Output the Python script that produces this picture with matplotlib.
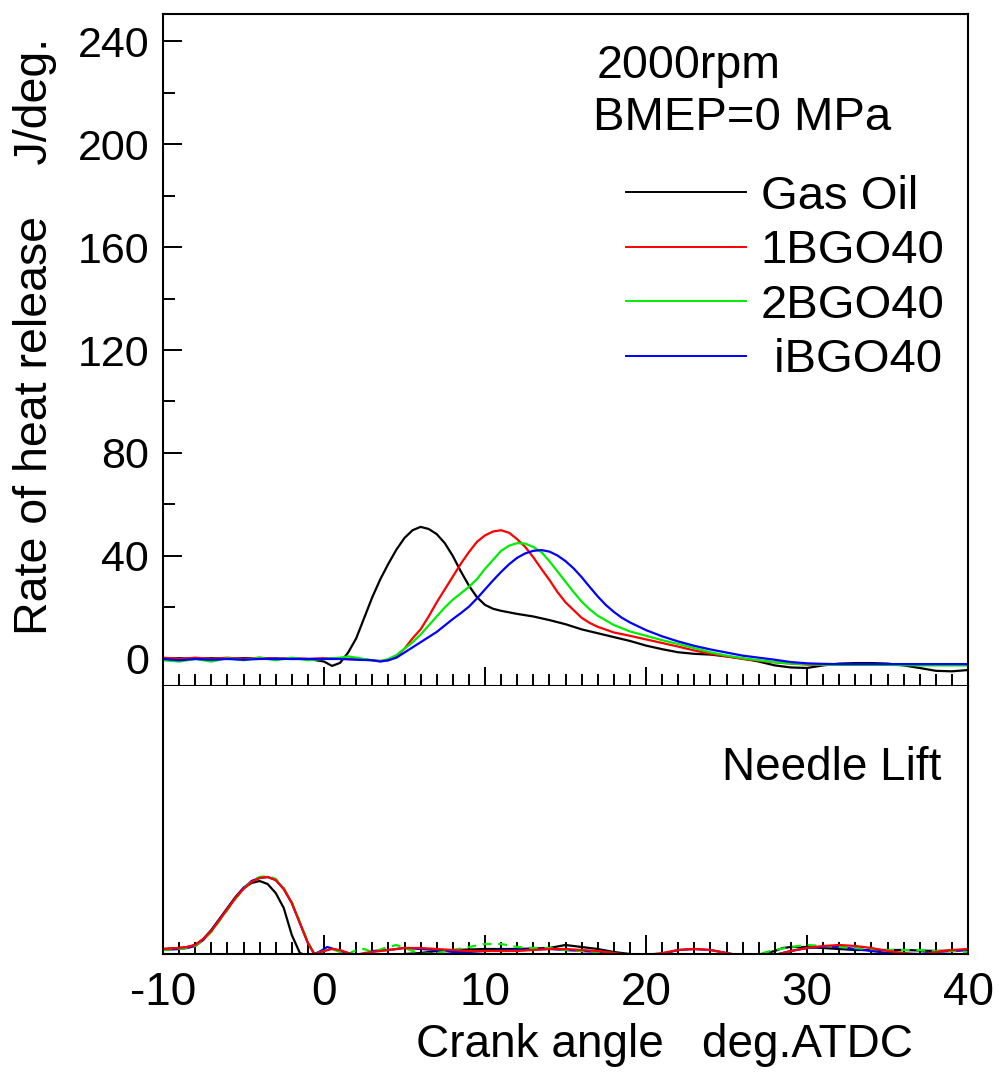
import matplotlib
matplotlib.use("Agg")
import matplotlib.pyplot as plt
from matplotlib.ticker import MultipleLocator

plt.rcParams['font.family'] = ['Liberation Sans', 'DejaVu Sans']
plt.rcParams['axes.unicode_minus'] = False

# ---------------- data: rate of heat release (J/deg) ----------------
gas_x = [-10, -9, -8, -7, -6, -5, -4, -3, -2, -1, 0, 0.5, 1, 1.5, 2, 2.5, 3, 3.5, 4, 4.5,
         5, 5.5, 6, 6.5, 7, 7.5, 8, 8.5, 9, 9.5, 10, 10.5, 11, 12, 13, 14, 15, 16, 17, 18,
         19, 20, 21, 22, 23, 24, 25, 26, 27, 28, 29, 30, 31, 32, 33, 34, 35, 36, 37, 38, 39, 40]
gas_y = [0, 0.3, 0, 0.3, 0, 0.3, 0.2, 0.2, 0, 0, -1, -2.7, -1.5, 2.5, 8, 16, 24, 31, 37, 42.5,
         47, 50, 51.3, 50.5, 48.5, 45, 40, 34, 28.5, 24, 21, 19.5, 18.7, 17.5, 16.5, 15.1, 13.5, 11.5, 10, 8.5,
         7, 5.2, 3.8, 2.6, 2, 1.7, 1, 0.2, -1, -2.5, -3.3, -3.5, -2.5, -1.8, -1.6, -1.6, -1.8, -2.5, -3.5, -4.6, -4.8, -4.3]

b1_x = [-10, -9, -8, -7, -6, -5, -4, -3, -2, -1, 0, 1, 2, 3, 3.5, 4, 4.5, 5, 5.5, 6,
        6.5, 7, 7.5, 8, 8.5, 9, 9.5, 10, 10.5, 11, 11.5, 12, 12.5, 13, 13.5, 14, 14.5, 15, 15.5, 16,
        16.5, 17, 18, 19, 20, 21, 22, 23, 24, 25, 26, 27, 28, 29, 30, 31, 32, 33, 34, 35,
        36, 37, 38, 39, 40]
b1_y = [0.5, 0, 0.5, 0, 0.5, 0, 0.5, 0, 0.3, 0, 0.3, 0, 0, -0.5, -0.8, -0.5, 1, 4, 8, 11.5,
        16.5, 22, 27, 32, 37, 41.5, 45.5, 48, 49.5, 50, 49, 46.5, 43.5, 39.5, 35, 30.7, 26, 22, 19, 16,
        14, 12.5, 10.3, 9, 7.6, 6.2, 4.8, 3.3, 2, 1, 0, -0.7, -1.3, -1.8, -2.2, -2.3, -2.3, -2.2, -2, -2,
        -2, -2, -2, -2, -2]

b2_x = [-10, -9, -8, -7, -6, -5, -4, -3, -2, -1, 0, 1, 1.5, 2, 3, 3.5, 4, 4.5, 5, 5.5,
        6, 6.5, 7, 7.5, 8, 8.5, 9, 9.5, 10, 10.5, 11, 11.5, 12, 12.5, 13, 13.5, 14, 14.5, 15, 15.5,
        16, 16.5, 17, 18, 19, 20, 21, 22, 23, 24, 25, 26, 27, 28, 29, 30, 31, 32, 33, 34,
        35, 36, 37, 38, 39, 40]
b2_y = [-0.5, -1, 0, -1, 0.3, -0.5, 0.5, -0.5, 0.5, -0.5, 0, 0.5, 1, 0.5, -0.5, -0.8, 0, 1.5, 4, 6.5,
        9.5, 13, 16.5, 20, 23, 25.5, 28, 31, 35, 38.5, 42, 44, 45, 44.8, 43.5, 41.5, 38, 34, 30, 26,
        22.3, 19.3, 16.8, 13.2, 10.7, 9, 7.3, 5.8, 4.2, 2.6, 1.3, 0.3, -0.5, -1.3, -1.8, -2, -2.2, -2.3, -2.3, -2.3,
        -2.3, -2.4, -2.5, -2.5, -2.5, -2.5]

bi_x = [-10, -9, -8, -7, -6, -5, -4, -3, -2, -1, 0, 1, 2, 3, 3.5, 4, 4.5, 5, 5.5, 6,
        6.5, 7, 7.5, 8, 8.5, 9, 9.5, 10, 10.5, 11, 11.5, 12, 12.5, 13, 13.5, 14, 14.5, 15, 15.5, 16,
        16.5, 17, 17.5, 18, 18.5, 19, 20, 21, 22, 23, 24, 25, 26, 27, 28, 29, 30, 31, 32, 33,
        34, 35, 36, 37, 38, 39, 40]
bi_y = [0, -0.5, 0, -0.3, 0, -0.3, 0, 0, 0, 0, 0, 0, -0.3, -0.5, -1, -0.5, 0.5, 2.5, 4.5, 6.5,
        8.5, 10.5, 13, 15.5, 17.8, 20.3, 23.5, 27, 30.5, 33.8, 36.8, 39.3, 41, 42, 42.3, 41.7, 40.2, 38, 35.2, 31.8,
        28, 24.3, 21, 18.3, 16, 14.2, 11.2, 8.8, 6.8, 5.1, 3.7, 2.5, 1.3, 0.5, -0.3, -1.2, -1.7, -1.9, -2, -2,
        -2, -2, -2, -2, -2, -2, -2]

# ---------------- data: needle lift (arbitrary units) ----------------
nl_gas_x = [-10, -9, -8.5, -8, -7.5, -7, -6.5, -6, -5.5, -5, -4.5, -4, -3.5, -3, -2.5, -2, -1.5, -1, 0, 2,
            4, 6, 7, 8, 10, 12, 14, 15, 16, 17, 18, 19, 20, 22, 24, 26, 27, 28, 28.5, 29,
            30, 31, 32, 33, 34, 36, 38, 40]
nl_gas_y = [1, 2, 3, 5, 11, 20, 31, 42, 53, 62, 67, 69, 66, 57, 42, 15, -3, -6, -6, -6,
            -5, -3, -1, 0, 1, 1, 2, 5, 3, 1, -2, -4, -6, -6, -6, -6, -5, -1, 2, 3,
            3, 2, 1, 0, 0, 0, -1, 0]

nl_b1_x = [-10, -9, -8.5, -8, -7.5, -7, -6.5, -6, -5.5, -5, -4.5, -4, -3.5, -3, -2.5, -2, -1.5, -1, -0.6, 0,
           0.5, 1, 1.5, 2, 2.5, 3, 4, 5, 6, 7, 8, 9, 10, 11, 12, 13, 14, 15, 16, 17,
           18, 19, 20, 21, 22, 23, 24, 25, 26, 27, 28, 28.5, 29, 30, 31, 32, 33, 34, 35, 36,
           37, 38, 39, 40]
nl_b1_y = [1, 2, 3, 5, 11, 19, 30, 41, 52, 61, 68, 72, 73, 70, 61, 47, 27, 7, -4, -1,
           1, 0, -3, -5, -3, -2, 0, 2, 2, 1, 0, -1, -1, -1, -1, 0, 1, 1, 0, -1,
           -3, -5, -5, -3, 0, 1, 0, -3, -6, -6, -5, -3, -1, 2, 4, 5, 4, 2, -1, -3,
           -5, -2, 0, 1]

nl_b2_x = [-10, -9, -8.5, -8, -7.5, -7, -6.5, -6, -5.5, -5, -4.5, -4, -3.5, -3, -2.5, -2, -1.5, -1, -0.6, 0,
           0.5, 1, 1.5, 2, 2.5, 3, 4, 4.5, 5, 6, 7, 8, 9, 10, 11, 12, 13, 14, 15, 16,
           17, 18, 19, 20, 22, 24, 26, 27, 28, 29, 30, 31, 32, 33, 34, 35, 36, 37, 38, 39, 40]
nl_b2_y = [0, 1, 2, 4, 10, 18, 29, 40, 51, 61, 69, 73, 74, 71, 62, 48, 28, 8, -4, -1,
           1, -2, -4, 0, 1, -2, 3, 5, 2, -4, -3, 0, 3, 6, 6, 3, 2, 2, 0, -1,
           -2, -3, -5, -6, -6, -6, -6, -4, 0, 3, 5, 4, 3, 2, 1, 0, 0, 0, -1, -1, -2]

nl_bi_x = [-10, -9, -8.5, -8, -7.5, -7, -6.5, -6, -5.5, -5, -4.5, -4, -3.5, -3, -2.5, -2, -1.5, -1, -0.6, -0.2,
           0.2, 0.6, 1, 2, 2.5, 3, 4, 5, 6, 7, 8, 9, 10, 12, 14, 15, 16, 17, 18, 20,
           21, 22, 23, 24, 25, 26, 28, 29, 30, 31, 32, 33, 34, 35, 37, 38, 39, 40]
nl_bi_y = [0, 1, 2, 4, 10, 19, 30, 41, 52, 62, 69, 72, 73, 70, 61, 47, 27, 7, -4, -1,
           3, 1, -1, -5, -5, -1, 0, 2, 1, 0, -2, -2, -1, 0, 1, 0, -1, -2, -4, -5,
           -4, 0, 1, 0, -3, -6, -5, -1, 2, 3, 3, 1, -1, -3, -4, -2, -1, 0]

labels = ["Gas Oil", "1BGO40", "2BGO40", " iBGO40"]
colors = ["#000000", "#ff0000", "#00ee00", "#0000ff"]

x_ticks = [-10, 0, 10, 20, 30, 40]
y_ticks = [0, 40, 80, 120, 160, 200, 240]

# ---------------- figure ----------------
fig = plt.figure(figsize=(9.99, 10.73), dpi=100)
W, H = 999, 1073
L, R = 163, 968
ax1 = fig.add_axes([L / W, 1 - 686 / H, (R - L) / W, (686 - 14) / H])
ax2 = fig.add_axes([L / W, 1 - 954 / H, (R - L) / W, (954 - 686) / H])

lw = 1.6
ax1.plot(gas_x, gas_y, color=colors[0], lw=lw, label=labels[0])
ax1.plot(b1_x, b1_y, color=colors[1], lw=lw, label=labels[1])
ax1.plot(b2_x, b2_y, color=colors[2], lw=lw, label=labels[2])
ax1.plot(bi_x, bi_y, color=colors[3], lw=lw, label=labels[3])

ax2.plot(nl_gas_x, nl_gas_y, color=colors[0], lw=lw)
ax2.plot(nl_bi_x, nl_bi_y, color=colors[3], lw=lw)
ax2.plot(nl_b2_x, nl_b2_y, color=colors[2], lw=lw, dashes=(4, 3))
ax2.plot(nl_b1_x, nl_b1_y, color=colors[1], lw=lw)

ax1.set_xlim(-10, 40)
ax1.set_ylim(-10.5, 250.5)
ax2.set_xlim(-10, 40)
ax2.set_ylim(-4, 264)

for ax in (ax1, ax2):
    for s in ax.spines.values():
        s.set_linewidth(1.5)
    ax.set_xticks(x_ticks)
    ax.xaxis.set_minor_locator(MultipleLocator(1))
    ax.tick_params(axis='x', which='major', direction='in', length=13.5, width=1.4,
                   top=False, bottom=True)
    ax.tick_params(axis='x', which='minor', direction='in', length=8.6, width=1.4,
                   top=False, bottom=True)

ax2.spines['top'].set_visible(False)
ax1.tick_params(axis='x', labelbottom=False)
ax2.tick_params(axis='x', which='major', labelsize=33, pad=12)
ax2.set_yticks([])

ax1.set_yticks(y_ticks)
ax1.yaxis.set_minor_locator(MultipleLocator(20))
ax1.tick_params(axis='y', which='major', direction='in', length=13.7, width=1.4,
                labelsize=31, pad=10, right=False)
ax1.tick_params(axis='y', which='minor', direction='in', length=8.6, width=1.4, right=False)

fig.text(35 / W, 1 - 336 / H, "Rate of heat release    J/deg.", rotation=90,
         fontsize=33.5, ha='center', va='center')
fig.text(665 / W, 1 - 1045 / H, "Crank angle   deg.ATDC", fontsize=33,
         ha='center', va='center')

ax1.text(0.539, 0.905, "2000rpm", transform=ax1.transAxes, fontsize=33.5,
         ha='left', va='baseline')
ax1.text(0.534, 0.827, "BMEP=0 MPa", transform=ax1.transAxes, fontsize=34,
         ha='left', va='baseline')
ax2.text(0.694, 0.649, "Needle Lift", transform=ax2.transAxes, fontsize=33,
         ha='left', va='baseline')

leg = ax1.legend(loc='upper left', bbox_to_anchor=((626 - L) / (R - L), (686 - 175) / 672),
                 frameon=False, fontsize=34, handlelength=2.55, handletextpad=0.3,
                 labelspacing=0.22, borderpad=0, borderaxespad=0)
for line in leg.get_lines():
    line.set_linewidth(1.4)

fig.savefig("out.png", dpi=100)
